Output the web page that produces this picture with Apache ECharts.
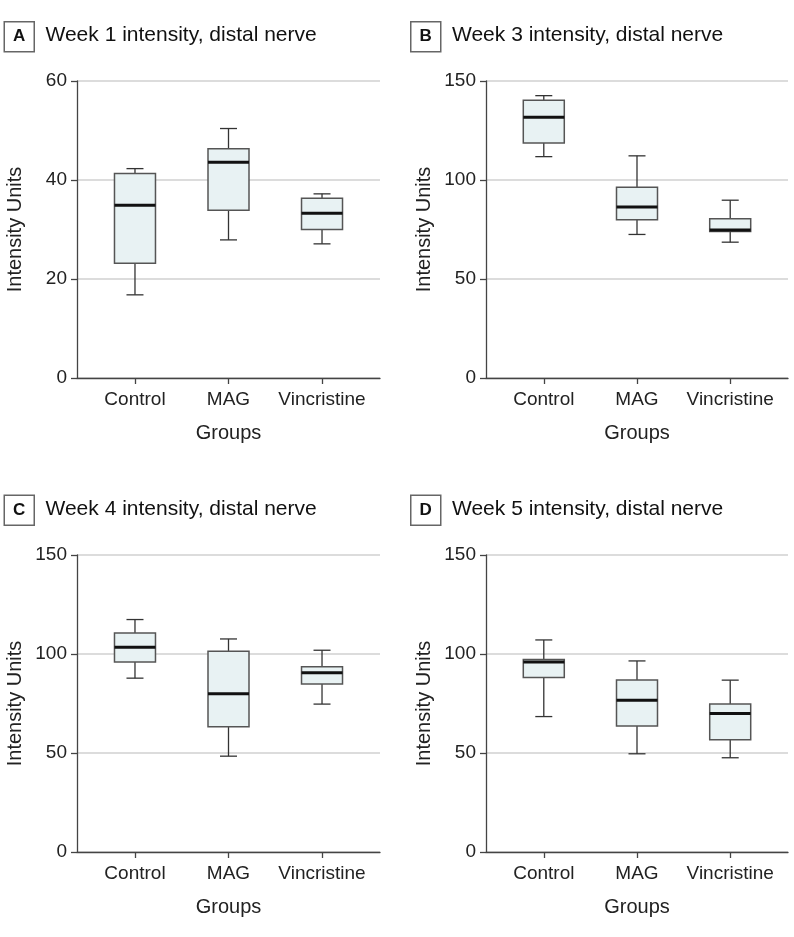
<!DOCTYPE html>
<html>
<head>
<meta charset="utf-8">
<script src="https://cdn.jsdelivr.net/npm/echarts@6/dist/echarts.min.js"></script>
<style>
html,body{margin:0;padding:0;background:#fff;}
#chart{width:794px;height:937px;}
</style>
</head>
<body>
<div id="chart"></div>
<script>
// ---- data (min, Q1, median, Q3, max) ----
const categories = ['Control', 'MAG', 'Vincristine'];
const panelLetters = ['A', 'B', 'C', 'D'];
const panelTitles = [
  'Week 1 intensity, distal nerve',
  'Week 3 intensity, distal nerve',
  'Week 4 intensity, distal nerve',
  'Week 5 intensity, distal nerve'
];
const week1Stats = [
  [16.8, 23.2, 34.9, 41.3, 42.3],
  [27.9, 33.9, 43.6, 46.3, 50.4],
  [27.1, 30.0, 33.3, 36.3, 37.2]
];
const week3Stats = [
  [111.8, 118.7, 131.7, 140.3, 142.6],
  [72.5, 79.9, 86.4, 96.4, 112.2],
  [68.6, 74.0, 74.7, 80.4, 89.8]
];
const week4Stats = [
  [87.8, 95.9, 103.4, 110.6, 117.4],
  [48.4, 63.2, 79.9, 101.4, 107.6],
  [74.7, 84.8, 90.5, 93.6, 101.9]
];
const week5Stats = [
  [68.4, 88.1, 95.9, 97.2, 107.1],
  [49.6, 63.6, 76.7, 86.9, 96.5],
  [47.6, 56.7, 69.9, 74.7, 86.8]
];
const yMaxes = [60, 150, 150, 150];
const yIntervals = [20, 50, 50, 50];
const allStats = [week1Stats, week3Stats, week4Stats, week5Stats];

// ---- layout ----
const FONT = "'Liberation Sans', Arial, sans-serif";
const grids = [
  {left: 77, top: 81, width: 303, height: 297},
  {left: 486, top: 81, width: 302, height: 297},
  {left: 77, top: 555, width: 303, height: 297},
  {left: 486, top: 555, width: 302, height: 297}
];
const labelBoxes = [
  {x: 3.5, y: 21},
  {x: 410, y: 21},
  {x: 3.5, y: 494.5},
  {x: 410, y: 494.5}
];

const chart = echarts.init(document.getElementById('chart'));

const xAxes = [], yAxes = [], series = [], graphics = [];
grids.forEach((g, i) => {
  xAxes.push({
    type: 'value', gridIndex: i, min: -0.62, max: 2.62,
    name: 'Groups', nameLocation: 'middle', nameGap: 45,
    nameTextStyle: {fontFamily: FONT, fontSize: 20, color: '#222'},
    axisLine: {show: true, onZero: false, lineStyle: {color: '#444', width: 1.3}},
    axisTick: {show: true, length: 6, customValues: [0, 1, 2], lineStyle: {color: '#444', width: 1.3}},
    axisLabel: {
      customValues: [0, 1, 2], margin: 12,
      fontFamily: FONT, fontSize: 19, color: '#222',
      formatter: v => categories[Math.round(v)] || ''
    },
    splitLine: {show: false}
  });
  yAxes.push({
    type: 'value', gridIndex: i, min: 0, max: yMaxes[i], interval: yIntervals[i],
    name: 'Intensity Units', nameLocation: 'middle', nameGap: 52,
    nameTextStyle: {fontFamily: FONT, fontSize: 20, color: '#222'},
    axisLine: {show: true, onZero: false, lineStyle: {color: '#444', width: 1.3}},
    axisTick: {show: true, length: 6, lineStyle: {color: '#444', width: 1.3}},
    axisLabel: {margin: 10, fontFamily: FONT, fontSize: 19, color: '#222'},
    splitLine: {show: true, lineStyle: {color: '#dcdcdc', width: 2}}
  });
  series.push({
    type: 'custom', xAxisIndex: i, yAxisIndex: i,
    data: allStats[i].map((s, k) => [k].concat(s)),
    renderItem: function (params, api) {
      const x = api.value(0);
      const lo = api.value(1), q1 = api.value(2), med = api.value(3), q3 = api.value(4), hi = api.value(5);
      const cx = api.coord([x, med])[0];
      const py = v => api.coord([x, v])[1];
      const hb = 20.5, hc = 8.5;
      const wStyle = {stroke: '#333', lineWidth: 1.3, fill: null};
      return {
        type: 'group',
        children: [
          {type: 'line', shape: {x1: cx, y1: py(hi), x2: cx, y2: py(q3)}, style: wStyle},
          {type: 'line', shape: {x1: cx - hc, y1: py(hi), x2: cx + hc, y2: py(hi)}, style: wStyle},
          {type: 'line', shape: {x1: cx, y1: py(q1), x2: cx, y2: py(lo)}, style: wStyle},
          {type: 'line', shape: {x1: cx - hc, y1: py(lo), x2: cx + hc, y2: py(lo)}, style: wStyle},
          {type: 'rect', shape: {x: cx - hb, y: py(q3), width: hb * 2, height: py(q1) - py(q3)},
            style: {fill: '#e8f2f3', stroke: '#555', lineWidth: 1.5}},
          {type: 'line', shape: {x1: cx - hb, y1: py(med), x2: cx + hb, y2: py(med)},
            style: {stroke: '#111', lineWidth: 3}}
        ]
      };
    }
  });
  const b = labelBoxes[i];
  graphics.push({
    type: 'group', left: b.x, top: b.y,
    children: [
      {type: 'rect', shape: {x: 0, y: 0, width: 30, height: 30},
        style: {fill: '#fff', stroke: '#666', lineWidth: 1.5}},
      {type: 'text', x: 15, y: 15, style: {text: panelLetters[i], fontFamily: FONT, fontWeight: 'bold',
        fontSize: 17, fill: '#111', align: 'center', verticalAlign: 'middle'}}
    ]
  });
  graphics.push({
    type: 'text', left: b.x + 42, top: b.y + 4,
    style: {text: panelTitles[i], fontFamily: FONT, fontSize: 21, fill: '#111'}
  });
});

chart.setOption({
  animation: false,
  backgroundColor: '#fff',
  grid: grids.map(g => Object.assign({containLabel: false}, g)),
  xAxis: xAxes,
  yAxis: yAxes,
  series: series,
  graphic: graphics
});
</script>
</body>
</html>
